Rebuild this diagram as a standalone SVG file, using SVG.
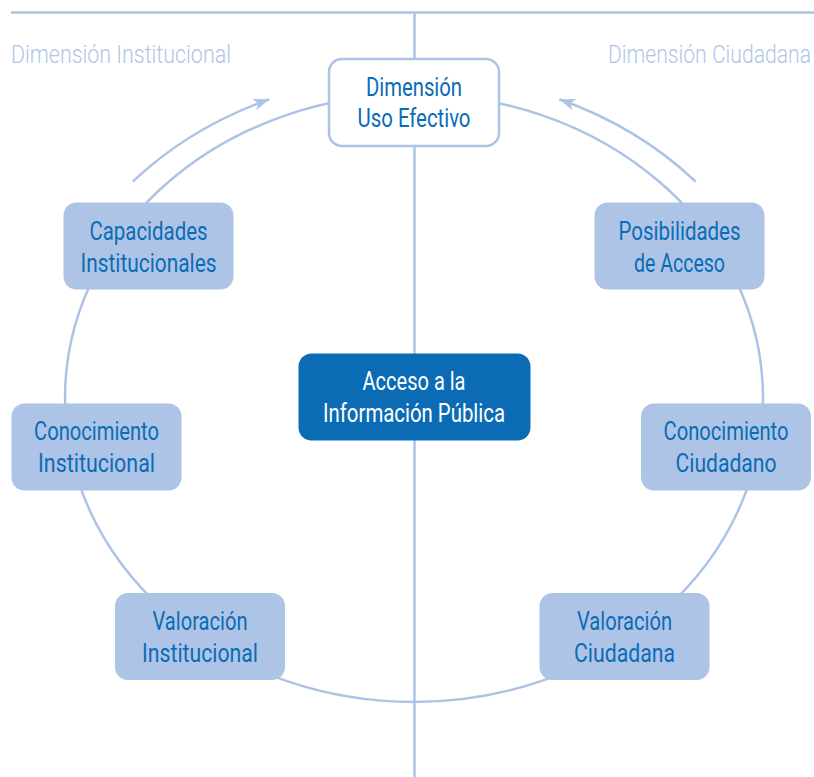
<svg xmlns="http://www.w3.org/2000/svg" width="814" height="777" viewBox="0 0 814 777">
  <style>
    .ln { fill: none; stroke: #adc3e6; stroke-width: 2.5; }
    .node { fill: #aec4e7; }
    .txt { font-family: "Liberation Sans Narrow", Roboto, "Liberation Sans", sans-serif; font-size: 26px; fill: #0a6cb6; text-anchor: middle; }
    .dim { font-family: "Liberation Sans Narrow", Roboto, "Liberation Sans", sans-serif; font-size: 25.5px; font-weight: 300; fill: #b1c5e8; }
    .white { fill: #ffffff; }
  </style>
  <defs>
    <marker id="head" markerUnits="userSpaceOnUse" viewBox="0 0 16 12" refX="16" refY="6" markerWidth="16" markerHeight="12" orient="auto">
      <path d="M0,0 L16,6 L0,12 L4,6 z" fill="#adc3e6"/>
    </marker>
  </defs>

  <!-- frame lines, cycle ellipse and direction arrows -->
  <g id="connectors">
    <line class="ln" x1="11" y1="12.5" x2="814" y2="12.5"/>
    <line class="ln" x1="414.5" y1="12.5" x2="414.5" y2="777"/>
    <ellipse class="ln" cx="414" cy="398" rx="349" ry="304"/>
    <path class="ln" d="M132.7,181.7 A378.5,323.3 0 0 1 269.3,99.3" marker-end="url(#head)"/>
    <path class="ln" d="M695.7,181.7 A378.5,323.3 0 0 0 559.3,99.3" marker-end="url(#head)"/>
  </g>

  <!-- texts are set in a condensed look: horizontal scale 0.83 -->
  <g id="label-institucional">
    <text class="dim" transform="translate(11 63) scale(0.83 1)" textLength="265" lengthAdjust="spacingAndGlyphs">Dimensión Institucional</text>
  </g>
  <g id="label-ciudadana">
    <text class="dim" transform="translate(811 63) scale(0.83 1)" text-anchor="end" textLength="244.6" lengthAdjust="spacingAndGlyphs">Dimensión Ciudadana</text>
  </g>

  <g id="uso-efectivo">
    <rect x="329" y="59" width="170" height="87" rx="13" fill="#ffffff" stroke="#adc3e6" stroke-width="2.5"/>
    <text class="txt" transform="translate(414 96) scale(0.83 1)" textLength="115.7" lengthAdjust="spacingAndGlyphs">Dimensión</text>
    <text class="txt" transform="translate(414 127) scale(0.83 1)" textLength="136.1" lengthAdjust="spacingAndGlyphs">Uso Efectivo</text>
  </g>

  <g id="acceso-informacion">
    <rect x="298.5" y="353.5" width="232" height="87" rx="13" fill="#0b6cb5"/>
    <text class="txt white" transform="translate(414 390) scale(0.83 1)" textLength="124.1" lengthAdjust="spacingAndGlyphs">Acceso a la</text>
    <text class="txt white" transform="translate(414 421.5) scale(0.83 1)" textLength="219.3" lengthAdjust="spacingAndGlyphs">Información Pública</text>
  </g>

  <g id="capacidades-institucionales">
    <rect class="node" x="63.5" y="202.5" width="170" height="87" rx="13"/>
    <text class="txt" transform="translate(148.5 240) scale(0.83 1)" textLength="142.2" lengthAdjust="spacingAndGlyphs">Capacidades</text>
    <text class="txt" transform="translate(148.5 271.5) scale(0.83 1)" textLength="163.9" lengthAdjust="spacingAndGlyphs">Institucionales</text>
  </g>

  <g id="posibilidades-acceso">
    <rect class="node" x="594.5" y="202.5" width="170" height="87" rx="13"/>
    <text class="txt" transform="translate(679.5 240) scale(0.83 1)" textLength="147" lengthAdjust="spacingAndGlyphs">Posibilidades</text>
    <text class="txt" transform="translate(679.5 271.5) scale(0.83 1)" textLength="109.6" lengthAdjust="spacingAndGlyphs">de Acceso</text>
  </g>

  <g id="conocimiento-institucional">
    <rect class="node" x="11.5" y="403.5" width="170" height="87" rx="13"/>
    <text class="txt" transform="translate(96.5 440) scale(0.83 1)" textLength="150.6" lengthAdjust="spacingAndGlyphs">Conocimiento</text>
    <text class="txt" transform="translate(96.5 471.5) scale(0.83 1)" textLength="141" lengthAdjust="spacingAndGlyphs">Institucional</text>
  </g>

  <g id="conocimiento-ciudadano">
    <rect class="node" x="641" y="403.5" width="170" height="87" rx="13"/>
    <text class="txt" transform="translate(726 440) scale(0.83 1)" textLength="150.6" lengthAdjust="spacingAndGlyphs">Conocimiento</text>
    <text class="txt" transform="translate(726 471.5) scale(0.83 1)" textLength="121.7" lengthAdjust="spacingAndGlyphs">Ciudadano</text>
  </g>

  <g id="valoracion-institucional">
    <rect class="node" x="115" y="593" width="170" height="87" rx="13"/>
    <text class="txt" transform="translate(200 629.5) scale(0.83 1)" textLength="114.5" lengthAdjust="spacingAndGlyphs">Valoración</text>
    <text class="txt" transform="translate(200 661.5) scale(0.83 1)" textLength="139.8" lengthAdjust="spacingAndGlyphs">Institucional</text>
  </g>

  <g id="valoracion-ciudadana">
    <rect class="node" x="539.5" y="593" width="170" height="87" rx="13"/>
    <text class="txt" transform="translate(624.5 629.5) scale(0.83 1)" textLength="114.5" lengthAdjust="spacingAndGlyphs">Valoración</text>
    <text class="txt" transform="translate(624.5 661.5) scale(0.83 1)" textLength="121.7" lengthAdjust="spacingAndGlyphs">Ciudadana</text>
  </g>
</svg>
